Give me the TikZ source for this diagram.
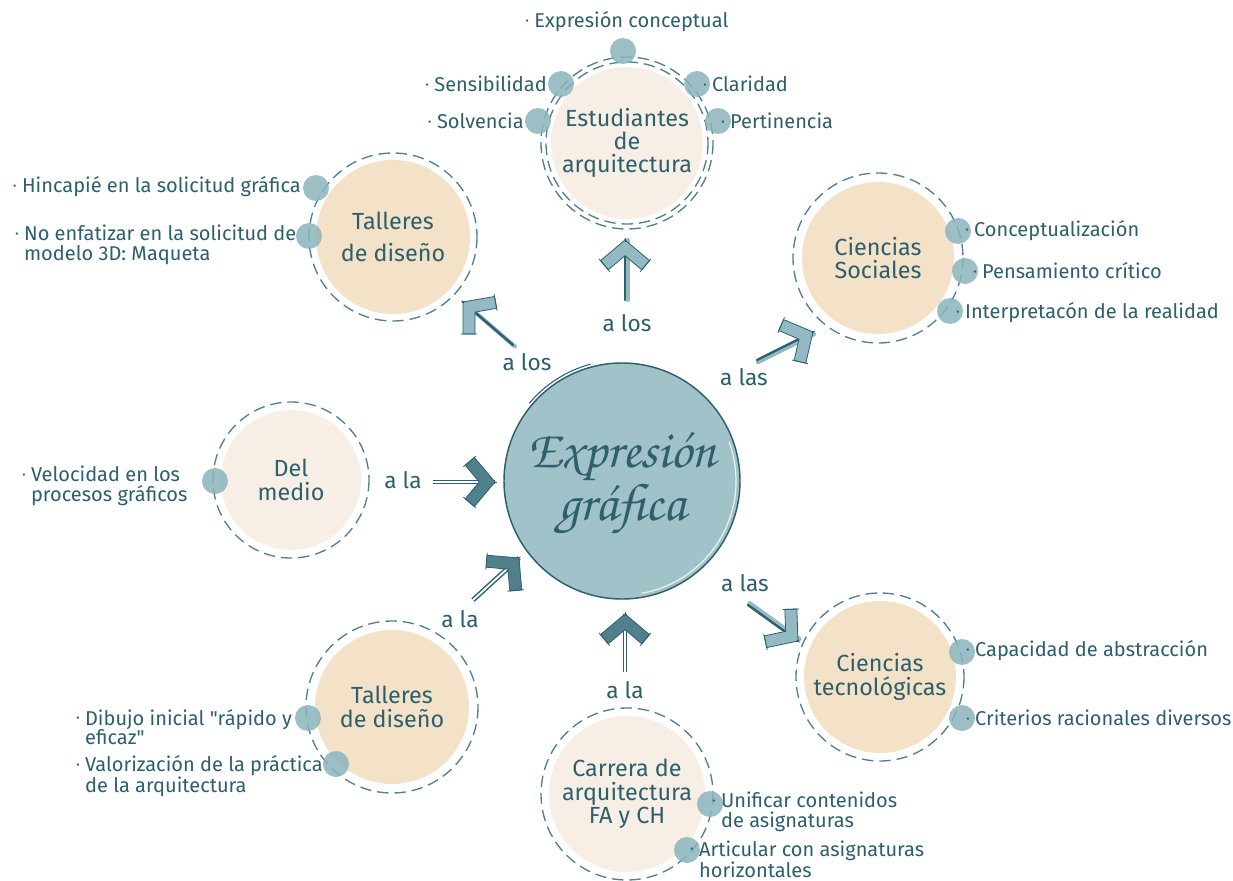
\documentclass[tikz,border=0pt]{standalone}
\usepackage{fontspec}
\usepackage{graphicx}
\setmainfont{Fira Sans}
\newfontfamily\scriptfam{texgyrechorus-mediumitalic.otf}
\usetikzlibrary{calc}

\definecolor{ink}{HTML}{2D5F6D}
\definecolor{ringc}{HTML}{52808B}
\definecolor{dotc}{HTML}{8BB4BD}
\definecolor{peach}{HTML}{F3E2C7}
\definecolor{cream}{HTML}{F7EFE5}
\definecolor{core}{HTML}{A1C2C9}
\definecolor{headlight}{HTML}{93BAC2}
\definecolor{headdark}{HTML}{50808C}

\newcommand\bul{\raisebox{0.3ex}{\scalebox{0.5}{\textbullet}}\hspace{0.28em}}
\newcommand\ind{\phantom{\bul}}

\tikzset{
  hub/.style={circle, draw=ink, line width=1.1pt, fill=core, minimum size=177pt, inner sep=0pt},
  topic/.style={circle, inner sep=0pt, text=ink, align=center, font=\fontsize{17.5}{17.5}\selectfont},
  ring/.style={draw=ringc, line width=1pt, dash pattern=on 8.5pt off 4.5pt},
  dot/.style={circle, fill=dotc, opacity=0.85, minimum size=19.5pt, inner sep=0pt},
  item/.style={text=ink, inner sep=0pt, align=left, font=\fontsize{15}{14.6}\selectfont},
  link/.style={text=ink, inner sep=0pt, font=\fontsize{17}{17}\selectfont},
  shaft/.style={draw=ink, line width=1.8pt, line cap=round},
  shaftshade/.style={draw=headlight, line width=3pt, line cap=round},
  twin/.style={draw=ink, double=white, double distance=1.4pt, line width=1.1pt},
  lighthead/.style={fill=headlight, draw=ink, line width=0.6pt, line join=miter},
  darkhead/.style={fill=headdark, draw=ink, line width=0.6pt, line join=miter},
  chevron/.pic={
    \path[pic actions] (0,0) -- (-20.6,24.5) -- (-29.8,16.8) -- (-15.7,0)
      -- (-29.8,-16.8) -- (-20.6,-24.5) -- cycle;
    % loose pen strokes past the cut ends
    \draw[ink, line width=0.6pt] (-18.8,26.0) -- (-31.6,15.3);
    \draw[ink, line width=0.6pt] (-18.8,-26.0) -- (-31.6,-15.3);
    \draw[ink, line width=0.6pt] (2,0) -- (-1.5,0);
  },
}

\begin{document}
\begin{tikzpicture}[x=0.75pt,y=-0.75pt]
\useasboundingbox (0,0) rectangle (1233,881);
\fill[white] (0,0) rectangle (1233,881);

% ---------- central hub ----------
\node[hub] (eg) at (622,481) {};
\draw[ink, line width=0.8pt] (eg.center) ++(-105:121) arc[start angle=-105, end angle=-140, radius=121];
\draw[white, line width=0.9pt, opacity=0.8] (eg.center) ++(-20:114) arc[start angle=-20, end angle=80, radius=114];
\node[text=ink, align=center, font=\scriptfam\fontsize{40}{40}\selectfont] (egt) at (622,483) {Expresión\\gráfica};

% ---------- arrows toward the surrounding topics ----------
% up, to the students
\coordinate (s1) at (625,300); \coordinate (t1) at (625,240);
\draw[shaftshade] ([shift={(2.5,0)}]s1) -- ([shift={(2.5,0)}]t1);
\draw[shaft] (s1) -- (t1);
\pic[lighthead, rotate=90] at (t1) {chevron};
\node[link] (a1) at (627,323) {a los};

% up-left, to the upper workshops
\coordinate (s2) at (513,345); \coordinate (t2) at (463,302);
\draw[shaftshade] ([shift={(2,1.5)}]s2) -- ([shift={(2,1.5)}]t2);
\draw[shaft] (s2) -- (t2);
\pic[lighthead, rotate=140] at (t2) {chevron};
\node[link] (a2) at (527,362) {a los};

% up-right, to the social sciences
\coordinate (s3) at (757,360); \coordinate (t3) at (813,332);
\draw[shaftshade] ([shift={(1,2.2)}]s3) -- ([shift={(1,2.2)}]t3);
\draw[shaft] (s3) -- (t3);
\pic[lighthead, rotate=27] at (t3) {chevron};
\node[link] (a3) at (744,377) {a las};

% from the left, the medium
\coordinate (s4) at (433,482); \coordinate (t4) at (495,482);
\draw[twin] (s4) -- (t4);
\pic[darkhead, rotate=0] at (t4) {chevron};
\node[link] (a4) at (403,480) {a la};

% from the lower left, the lower workshops
\coordinate (s5) at (473,600); \coordinate (t5) at (519,558);
\draw[twin] (s5) -- (t5);
\pic[darkhead, rotate=45] at (t5) {chevron};
\node[link] (a5) at (460,619) {a la};

% from below, the degree programme
\coordinate (s6) at (625,672); \coordinate (t6) at (625,614);
\draw[twin] (s6) -- (t6);
\pic[darkhead, rotate=90] at (t6) {chevron};
\node[link] (a6) at (625,690) {a la};

% down-right, to the technological sciences
\coordinate (s7) at (748,605); \coordinate (t7) at (798,641);
\draw[shaftshade] ([shift={(1.5,-2)}]s7) -- ([shift={(1.5,-2)}]t7);
\draw[shaft] (s7) -- (t7);
\pic[lighthead, rotate=-38] at (t7) {chevron};
\node[link] (a7) at (745,583) {a las};

% ---------- Estudiantes de arquitectura ----------
\node[topic, fill=cream, minimum size=114pt] (est) at (627,143) {Estudiantes\\de\\arquitectura};
\draw[ring] (est.center) circle[radius=81];
\draw[ring] (est.center) circle[radius=86];
\node[dot] (e1) at (623,51) {};
\node[dot] (e2) at (561,84) {};
\node[dot] (e3) at (697,84) {};
\node[dot] (e4) at (538,121) {};
\node[dot] (e5) at (718,121) {};
\node[item] (le1) at (627,22) {\bul Expresión conceptual};
\node[item, anchor=east] (le2) at (547,84) {\bul Sensibilidad};
\node[item, anchor=west] (le3) at (703,84) {\bul Claridad};
\node[item, anchor=east] (le4) at (524,121) {\bul Solvencia};
\node[item, anchor=west] (le5) at (721,121) {\bul Pertinencia};

% ---------- Talleres de diseño (upper) ----------
\node[topic, fill=peach, minimum size=115.5pt, font=\fontsize{17.5}{24.5}\selectfont] (tdt) at (393,237) {Talleres\\de diseño};
\draw[ring] (tdt.center) circle[radius=84];
\node[dot] (u1) at (316,188) {};
\node[dot] (u2) at (309,236) {};
\node[item, anchor=east] (lu1) at (301,187) {\bul Hincapié en la solicitud gráfica};
\node[item, anchor=west] (lu2) at (15,245) {\bul No enfatizar en la solicitud de\\\ind modelo 3D: Maqueta};

% ---------- Ciencias Sociales ----------
\node[topic, fill=peach, minimum size=114pt] (cs) at (878,258) {Ciencias\\Sociales};
\draw[ring] (cs.center) circle[radius=85];
\node[dot] (c1) at (958,231) {};
\node[dot] (c2) at (965,271) {};
\node[dot] (c3) at (950,311) {};
\node[item, anchor=west] (lc1) at (965,231) {\bul Conceptualización};
\node[item, anchor=west] (lc2) at (973,271) {\bul Pensamiento crítico};
\node[item, anchor=west] (lc3) at (956,313) {\bul Interpretacón de la realidad};

% ---------- Del medio ----------
\node[topic, fill=cream, minimum size=105pt] (dm) at (291,480) {Del\\medio};
\draw[ring] (dm.center) circle[radius=78];
\node[dot] (m1) at (215,481) {};
\node[item, anchor=west] (lm1) at (22,486) {\bul Velocidad en los\\\ind procesos gráficos};

% ---------- Talleres de diseño (lower) ----------
\node[topic, fill=peach, minimum size=115.5pt] (tdb) at (392,707) {Talleres\\de diseño};
\draw[ring] (tdb.center) circle[radius=86];
\node[dot] (b1) at (308,718) {};
\node[dot] (b2) at (336,764) {};
\node[item, anchor=west] (lb1) at (76,727) {\bul Dibujo inicial \textquotedbl rápido y\\\ind eficaz\textquotedbl};
\node[item, anchor=west] (lb2) at (76,776) {\bul Valorización de la práctica\\\ind de la arquitectura};

% ---------- Carrera de arquitectura FA y CH ----------
\node[topic, fill=cream, minimum size=117pt] (car) at (627,794) {Carrera de\\arquitectura\\FA y CH};
\draw[ring] (car.center) circle[radius=86];
\node[dot] (r1) at (710,804) {};
\node[dot] (r2) at (687,850) {};
\node[item, anchor=west] (lr1) at (712,812) {\bul Unificar contenidos\\\ind de asignaturas};
\node[item, anchor=west] (lr2) at (690,859) {\bul Articular con asignaturas\\\ind horizontales};

% ---------- Ciencias tecnológicas ----------
\node[topic, fill=peach, minimum size=114pt] (ct) at (880,677) {Ciencias\\tecnológicas};
\draw[ring] (ct.center) circle[radius=84];
\node[dot] (k1) at (962,652) {};
\node[dot] (k2) at (962,718) {};
\node[item, anchor=west] (lk1) at (966,651) {\bul Capacidad de abstracción};
\node[item, anchor=west] (lk2) at (966,718) {\bul Criterios racionales diversos};
\end{tikzpicture}
\end{document}
